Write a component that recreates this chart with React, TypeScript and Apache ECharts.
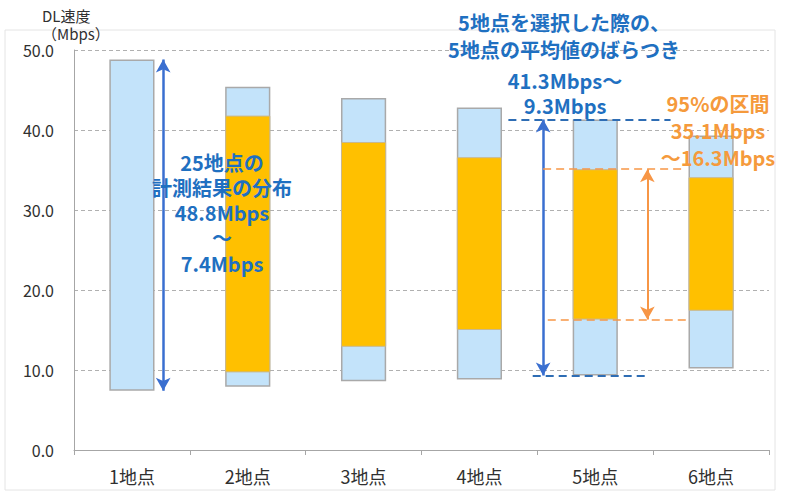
import React, { useEffect, useRef } from "react";
import * as echarts from "echarts";

const categories = ["1地点", "2地点", "3地点", "4地点", "5地点", "6地点"];
const blueLow = [7.4, 7.9, 8.6, 8.8, 9.3, 10.2];
const blueHigh = [48.8, 45.4, 44.0, 42.8, 41.3, 39.3];
const orangeLow: (number | null)[] = [null, 9.7, 12.9, 15.0, 16.3, 17.4];
const orangeHigh: (number | null)[] = [null, 41.8, 38.5, 36.6, 35.1, 34.1];
const yTicks = [0, 10, 20, 30, 40, 50];

// annotation arrows / dashed lines in data coordinates (x on a continuous category scale)
const blueArrows = [
  { x: 0.27, from: 48.8, to: 7.4 },
  { x: 3.55, from: 41.3, to: 9.3 },
];
const orangeArrows = [{ x: 4.45, from: 35.1, to: 16.3 }];
const blueDashes = [
  { x1: 3.25, x2: 4.65, y: 41.3 },
  { x1: 3.46, x2: 4.45, y: 9.3 },
];
const orangeDashes = [
  { x1: 3.55, x2: 4.78, y: 35.1 },
  { x1: 3.59, x2: 4.8, y: 16.3 },
];

const axisTitle = ["DL速度", "（Mbps）"];
const noteBlue1 = ["25地点の", "計測結果の分布", "48.8Mbps", "～", "7.4Mbps"];
const noteBlue2 = ["5地点を選択した際の、", "5地点の平均値のばらつき"];
const noteBlue3 = ["41.3Mbps～", "9.3Mbps"];
const noteOrange = ["95%の区間", "35.1Mbps", "～16.3Mbps"];

const FONT = "'Noto Sans CJK JP', 'Noto Sans', sans-serif";
const BLUE_TEXT = "#1F70C1";
const ORANGE_TEXT = "#F59A3C";

export default function App() {
  const ref = useRef<HTMLDivElement>(null);
  useEffect(() => {
    if (!ref.current) return;
    const chart = echarts.init(ref.current, undefined, { renderer: "svg" });

    const blueSeg = blueHigh.map((h, i) => +(h - blueLow[i]).toFixed(2));
    const orangeSeg = orangeHigh.map((h, i) =>
      h == null || orangeLow[i] == null ? "-" : +(h - (orangeLow[i] as number)).toFixed(2)
    );
    const orangeBase = orangeLow.map((v) => (v == null ? "-" : v));

    const markData: any[] = [];
    blueArrows.forEach((a) =>
      markData.push([
        { coord: [a.x, a.from], symbol: "arrow" },
        { coord: [a.x, a.to], symbol: "arrow", lineStyle: { color: "#3A6FD0", width: 2.5, type: "solid" } },
      ])
    );
    orangeArrows.forEach((a) =>
      markData.push([
        { coord: [a.x, a.from], symbol: "arrow" },
        { coord: [a.x, a.to], symbol: "arrow", lineStyle: { color: "#F79646", width: 2, type: "solid" } },
      ])
    );
    blueDashes.forEach((d) =>
      markData.push([
        { coord: [d.x1, d.y], symbol: "none" },
        { coord: [d.x2, d.y], symbol: "none", lineStyle: { color: "#2E6DB4", width: 2, type: [8, 5] } },
      ])
    );
    orangeDashes.forEach((d) =>
      markData.push([
        { coord: [d.x1, d.y], symbol: "none" },
        { coord: [d.x2, d.y], symbol: "none", lineStyle: { color: "#F79646", width: 1.5, type: [8, 5] } },
      ])
    );

    const textBlock = (
      lines: string[],
      cx: number,
      y0: number,
      step: number,
      color: string,
      font = `bold 20px ${FONT}`,
      align = "center"
    ) => ({
      type: "text",
      x: cx,
      y: y0 + ((lines.length - 1) * step) / 2,
      z: 100,
      style: {
        text: lines.join("\n"),
        fill: color,
        font,
        lineHeight: step,
        align,
        verticalAlign: "middle",
      },
    });

    chart.setOption({
      animation: false,
      grid: { left: 74, right: 20, top: 50, bottom: 45, containLabel: false },
      xAxis: [
        {
          type: "category",
          data: categories,
          axisLine: { onZero: false, lineStyle: { color: "#A6A6A6", width: 1 } },
          axisTick: { show: true, alignWithLabel: false, length: 5, lineStyle: { color: "#A6A6A6" } },
          axisLabel: { color: "#303030", fontSize: 18, fontFamily: FONT, margin: 17 },
        },
        { type: "value", min: -0.5, max: 5.5, show: false },
      ],
      yAxis: {
        type: "value",
        min: 0,
        max: 50,
        interval: 10,
        axisLine: { show: true, onZero: false, lineStyle: { color: "#A6A6A6" } },
        axisTick: { show: false },
        axisLabel: {
          color: "#303030",
          fontSize: 16,
          fontFamily: FONT,
          margin: 20,
          formatter: (v: number) => (yTicks.includes(v) ? v.toFixed(1) : ""),
        },
        splitLine: { lineStyle: { color: "#B0B0B0", type: [4, 3] } },
      },
      series: [
        {
          type: "bar",
          stack: "blue",
          data: blueLow,
          barWidth: "39%",
          itemStyle: { color: "transparent" },
          silent: true,
        },
        {
          type: "bar",
          stack: "blue",
          data: blueSeg,
          barWidth: "39%",
          itemStyle: { color: "#C3E3FA", borderColor: "#A9A9A9", borderWidth: 1.5 },
        },
        {
          type: "bar",
          stack: "orange",
          data: orangeBase,
          barWidth: "39%",
          barGap: "-100%",
          itemStyle: { color: "transparent" },
          silent: true,
        },
        {
          type: "bar",
          stack: "orange",
          data: orangeSeg,
          barWidth: "39%",
          barGap: "-100%",
          itemStyle: { color: "#FFC000", borderColor: "#C8B890", borderWidth: 1 },
        },
        {
          type: "scatter",
          xAxisIndex: 1,
          data: [],
          silent: true,
          markLine: {
            silent: true,
            symbol: ["none", "none"],
            symbolSize: [11, 13],
            label: { show: false },
            data: markData,
          },
        },
      ],
      graphic: [
        {
          type: "rect",
          shape: { x: 5, y: 30, width: 770, height: 460 },
          style: { fill: "none", stroke: "#E4E4E4", lineWidth: 1 },
          z: -1,
        },
        textBlock(axisTitle, 42, 15, 18, "#303030", `15px ${FONT}`, "left"),
        textBlock(noteBlue1, 222, 162, 25.3, BLUE_TEXT),
        textBlock(noteBlue2, 564, 22, 27, BLUE_TEXT),
        textBlock(noteBlue3, 565, 80, 25, BLUE_TEXT),
        textBlock(noteOrange, 718, 103, 27, ORANGE_TEXT),
      ],
    });
    return () => chart.dispose();
  }, []);
  return (
    <div
      ref={ref}
      style={{ position: "absolute", left: 0, top: 0, width: 789, height: 495, background: "#fff" }}
    />
  );
}
